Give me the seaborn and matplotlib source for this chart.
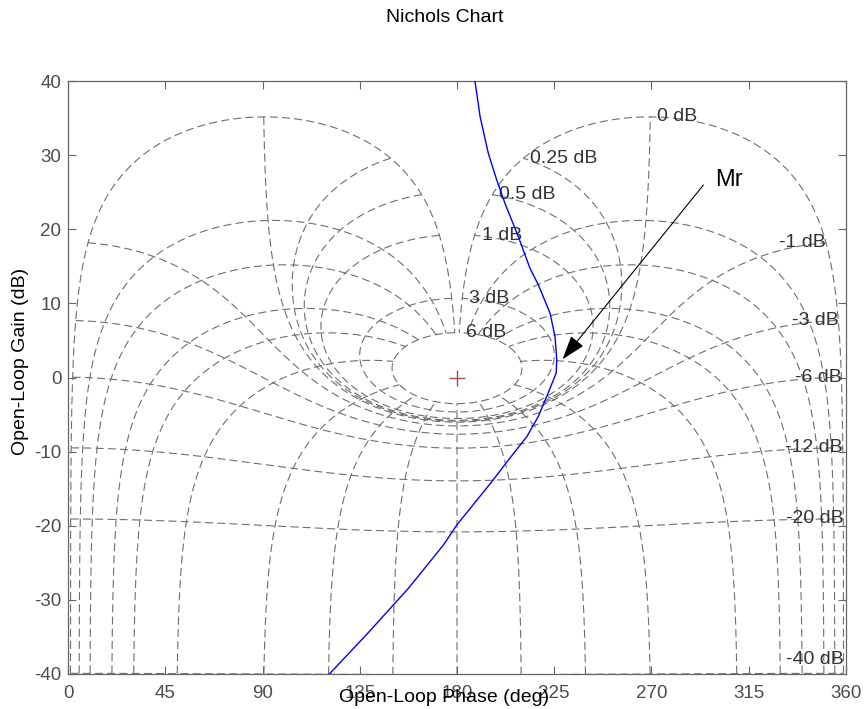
import numpy as np
import matplotlib
matplotlib.use("Agg")
import matplotlib.pyplot as plt
import seaborn as sns
import pandas as pd

# ---- data ----
# open-loop frequency response (phase in deg, gain in dB)
ol_phase = [188.3, 190.7, 194.5, 198.4, 202.2, 208.4, 213.8, 217.7, 223.1, 225.4,
            226.2, 225.9, 221.5, 217.6, 212.3, 203.8, 196.1, 179.9, 173.7, 157.5,
            138.9, 120.9]
ol_gain = [40.0, 35.18, 30.25, 26.64, 23.5, 19.0, 14.73, 12.48, 8.66, 5.5,
           2.36, 0.57, -2.59, -5.29, -7.99, -11.13, -14.06, -19.9, -22.6, -28.44,
           -34.43, -40.0]

# Nichols grid: closed-loop magnitudes (dB) and closed-loop phases (deg)
cl_mag_db = [6, 3, 1, 0.5, 0.25, 0, -1, -3, -6, -12, -20, -40]
mag_labels = ["6 dB", "3 dB", "1 dB", "0.5 dB", "0.25 dB", "0 dB",
              "-1 dB", "-3 dB", "-6 dB", "-12 dB", "-20 dB", "-40 dB"]
cl_phase_deg = [-1, -5, -10, -20, -30, -50, -90, -120, -150, -180,
                -210, -240, -270, -310, -330, -340, -350, -355, -359]

x_ticks = [0, 45, 90, 135, 180, 225, 270, 315, 360]
y_ticks = [-40, -30, -20, -10, 0, 10, 20, 30, 40]

# annotation
mr_tip = (228.9, 2.46)
mr_tail = (294.1, 25.97)
mr_text = "Mr"

# ---- styling ----
sns.set_theme(style="white")
plt.rcParams["font.family"] = ["Liberation Sans", "DejaVu Sans"]
plt.rcParams["axes.unicode_minus"] = False

W, H = 865, 709
fig = plt.figure(figsize=(W / 100, H / 100), dpi=100)
ax = fig.add_axes([68.3 / W, (H - 674) / H, 777.4 / W, 593 / H])

GRID_C = "#6e6e6e"
GRID_LS = (0, (7.2, 3.8))


def ol_from_cl(m_db, phi_deg):
    m_db = np.asarray(m_db, dtype=float)
    phi_deg = np.asarray(phi_deg, dtype=float)
    T = 10 ** (m_db / 20) * np.exp(1j * np.deg2rad(phi_deg))
    G = T / (1 - T)
    ph = phi_deg - np.rad2deg(np.angle(1 - T)) + 360.0
    return ph, 20 * np.log10(np.abs(G))


# constant closed-loop magnitude contours
phi_s = np.linspace(-359, -1, 6000)
for m in cl_mag_db:
    px, gy = ol_from_cl(np.full_like(phi_s, m), phi_s)
    ax.plot(px, gy, color=GRID_C, lw=0.8, ls=GRID_LS, zorder=1)

# constant closed-loop phase contours
m_s = np.union1d(np.linspace(-40, 6, 4000), [0.0])
for p in cl_phase_deg:
    px, gy = ol_from_cl(m_s, np.full_like(m_s, p))
    ax.plot(px, gy, color=GRID_C, lw=0.8, ls=GRID_LS, zorder=1)

# contour labels at the closed-loop phase = -1 deg end
for m, lab in zip(cl_mag_db, mag_labels):
    px, gy = ol_from_cl(m, -1.0)
    gy = float(np.clip(gy, -38.1, 38.0))
    if m >= 0:
        ax.annotate(lab, (float(px), gy), xytext=(5, 0), textcoords="offset points",
                    ha="left", va="center", fontsize=14, color="#333333", zorder=3)
    else:
        ax.annotate(lab, (float(px), gy), xytext=(0, 0), textcoords="offset points",
                    ha="right", va="center", fontsize=14, color="#333333", zorder=3)

# critical point
ax.plot([180], [0], marker="+", markersize=12, mew=1.0, color="#a0504a",
        ls="none", zorder=3)

# open-loop response
df = pd.DataFrame({"phase": ol_phase, "gain": ol_gain})
sns.lineplot(data=df, x="phase", y="gain", sort=False, estimator=None,
             color="#0000ff", lw=1.0, ax=ax, zorder=4)

# Mr arrow
ax.annotate("", xy=mr_tip, xytext=mr_tail,
            arrowprops=dict(arrowstyle="-|>,head_length=0.75,head_width=0.25",
                            mutation_scale=20, color="black", lw=0.8,
                            shrinkA=0, shrinkB=0), zorder=5)
ax.text(299.5, 26.6, mr_text, fontsize=17, color="black", ha="left", va="center",
        zorder=5)

# axes
ax.set_xlim(0, 360)
ax.set_ylim(-40, 40)
ax.set_xticks(x_ticks)
ax.set_yticks(y_ticks)
ax.tick_params(direction="in", length=6, width=0.8, color="#666666",
               labelsize=13.5, labelcolor="#4d4d4d", top=True, right=True,
               bottom=True, left=True)
ax.tick_params(axis="x", pad=8)
ax.tick_params(axis="y", pad=5)
for s in ax.spines.values():
    s.set_color("#666666")
    s.set_linewidth(0.9)
ax.grid(False)

ax.set_xlabel("Open-Loop Phase (deg)", fontsize=14, color="black")
ax.xaxis.set_label_coords((443.7 - 68.3) / 777.4, (674 - 697) / 593)
ax.xaxis.label.set_va("center")
ax.set_ylabel("Open-Loop Gain (dB)", fontsize=14, color="black")
ax.yaxis.set_label_coords((21 - 68.3) / 777.4, (674 - 361) / 593)
ax.yaxis.label.set_va("center")

fig.text(445 / W, 1 - 17 / H, "Nichols Chart", ha="center", va="center",
         fontsize=14, color="black")

fig.savefig("out.png", dpi=100)
